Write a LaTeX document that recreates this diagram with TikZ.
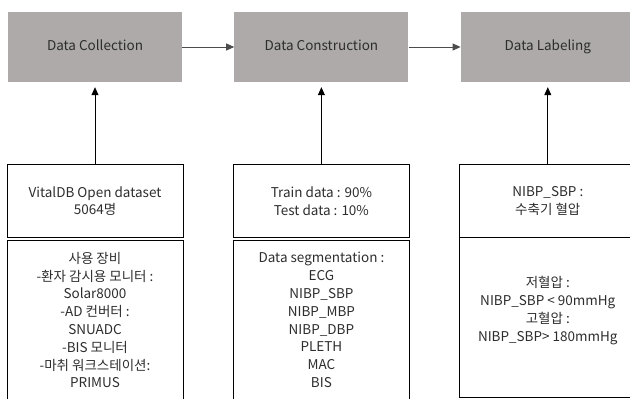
\documentclass[tikz,border=0pt]{standalone}
\usepackage{fontspec}
\setmainfont{Noto Sans CJK KR}
\usetikzlibrary{arrows.meta, positioning}
\definecolor{stagegray}{RGB}{173,170,169}
\definecolor{txtgray}{RGB}{45,45,45}

\begin{document}
\begin{tikzpicture}[x=1pt, y=-1pt,
  node distance=52pt and 52pt,
  stage/.style={fill=stagegray, minimum width=174pt, minimum height=70pt, text height=0.72em, text depth=0em, font=\fontsize{13.5}{17.8}\selectfont, text=txtgray},
  info/.style={draw, line width=0.9pt, minimum width=176pt, minimum height=73pt, align=center, font=\fontsize{13.5}{17.8}\selectfont, text=txtgray},
  detail/.style={info, minimum height=160pt},
  arr/.style={-{Triangle[length=8pt, width=7pt]}, line width=0.8pt}
]
\useasboundingbox (0,0) rectangle (630,399);
\node[stage] (coll) at (95,47) {Data Collection};
\node[stage, right=of coll] (cons) {Data Construction};
\node[stage, right=of cons] (label) {Data Labeling};
\node[info, below=82pt of coll] (vital) {VitalDB Open dataset\\5064명};
\node[info, below=82pt of cons] (split) {Train data : 90\%\\Test data : 10\%};
\node[info, below=82pt of label] (sbp) {NIBP\_SBP :\\수축기 혈압};
\node[detail, below=1.5pt of vital] (equip) {사용 장비\\-환자 감시용 모니터 :\\Solar8000\\-AD 컨버터 :\\SNUADC\\-BIS 모니터\\-마취 워크스테이션:\\PRIMUS};
\node[detail, below=1.5pt of split] (segm) {Data segmentation :\\ECG\\NIBP\_SBP\\NIBP\_MBP\\NIBP\_DBP\\PLETH\\MAC\\BIS};
\node[detail, below=-0.9pt of sbp] (thresh) {저혈압 :\\NIBP\_SBP < 90mmHg\\고혈압 :\\NIBP\_SBP> 180mmHg\\~};
\draw[arr, draw=black!70] (coll) -- (cons);
\draw[arr, draw=black!70] (cons) -- (label);
\draw[arr, shorten >=5pt] (vital) -- (coll);
\draw[arr, shorten >=5pt] (split) -- (cons);
\draw[arr, shorten >=5pt] (sbp) -- (label);
\end{tikzpicture}
\end{document}
